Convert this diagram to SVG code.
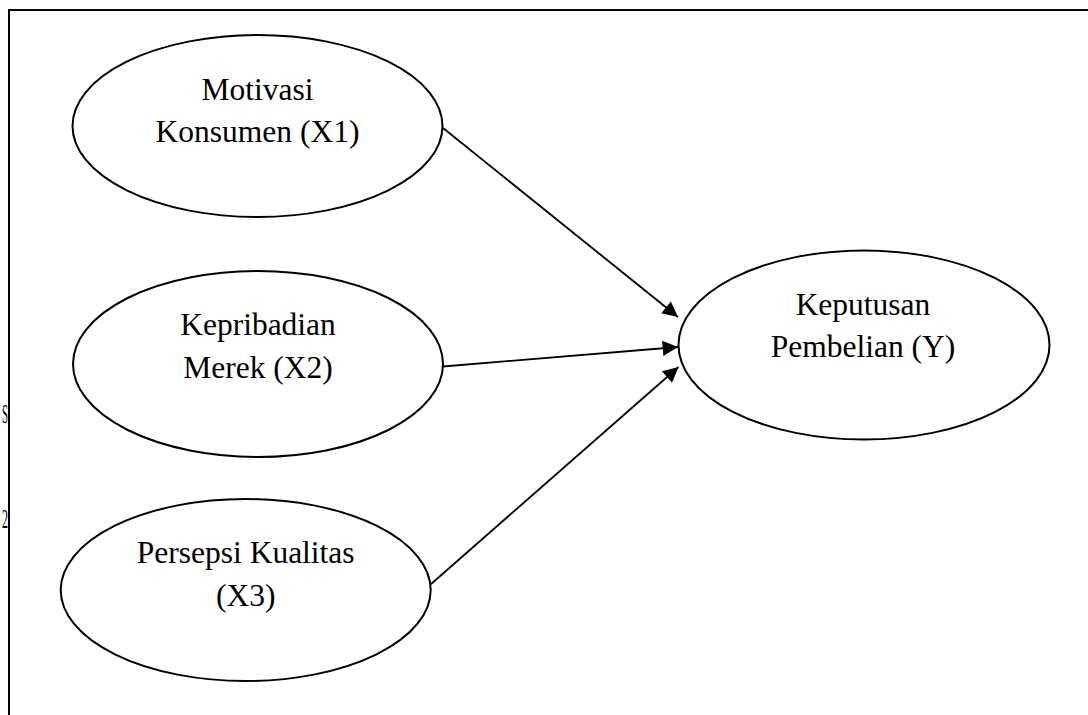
<svg xmlns="http://www.w3.org/2000/svg" width="1088" height="715" viewBox="0 0 1088 715">
  <style>
    .node ellipse { fill: #ffffff; stroke: #000000; stroke-width: 2; }
    .node text { font-family: "Liberation Serif", "Times New Roman", serif; font-size: 31.5px; fill: #000000; text-anchor: middle; }
    .frag { font-family: "Liberation Serif", "Times New Roman", serif; font-size: 28px; fill: #000000; }
    .edge { stroke: #000000; stroke-width: 1.8; fill: none; marker-end: url(#arrow); }
    .frame { stroke: #000000; stroke-width: 2; fill: none; }
  </style>
  <defs>
    <marker id="arrow" viewBox="0 0 10 10" refX="10" refY="5" markerWidth="10.5" markerHeight="8.5" markerUnits="strokeWidth" orient="auto">
      <path d="M0,0 L10,5 L0,10 z" fill="#000000"/>
    </marker>
  </defs>
  <rect x="0" y="0" width="1088" height="715" fill="#ffffff"/>

  <g id="fragments">
    <text class="frag" x="2" y="423" textLength="6" lengthAdjust="spacingAndGlyphs">S</text>
    <text class="frag" x="2" y="528" textLength="6" lengthAdjust="spacingAndGlyphs">2</text>
  </g>

  <g id="frame">
    <path class="frame" d="M9,715 L9,10 L1088,10"/>
  </g>

  <g id="connectors">
    <line class="edge" x1="443" y1="128" x2="678" y2="317"/>
    <line class="edge" x1="443" y1="366.5" x2="678" y2="347"/>
    <line class="edge" x1="430.5" y1="584.5" x2="678.5" y2="367"/>
  </g>

  <g id="node-x1" class="node">
    <ellipse cx="257.5" cy="126" rx="185" ry="91"/>
    <text x="257.5" y="100">Motivasi</text>
    <text x="257.5" y="142">Konsumen (X1)</text>
  </g>

  <g id="node-x2" class="node">
    <ellipse cx="258" cy="364" rx="185" ry="93"/>
    <text x="258" y="335">Kepribadian</text>
    <text x="258" y="378">Merek (X2)</text>
  </g>

  <g id="node-x3" class="node">
    <ellipse cx="245.7" cy="590" rx="185" ry="91"/>
    <text x="245.7" y="563">Persepsi Kualitas</text>
    <text x="245.7" y="606">(X3)</text>
  </g>

  <g id="node-y" class="node">
    <ellipse cx="864" cy="345" rx="185.5" ry="94.5"/>
    <text x="863" y="315">Keputusan</text>
    <text x="863" y="357">Pembelian (Y)</text>
  </g>
</svg>
